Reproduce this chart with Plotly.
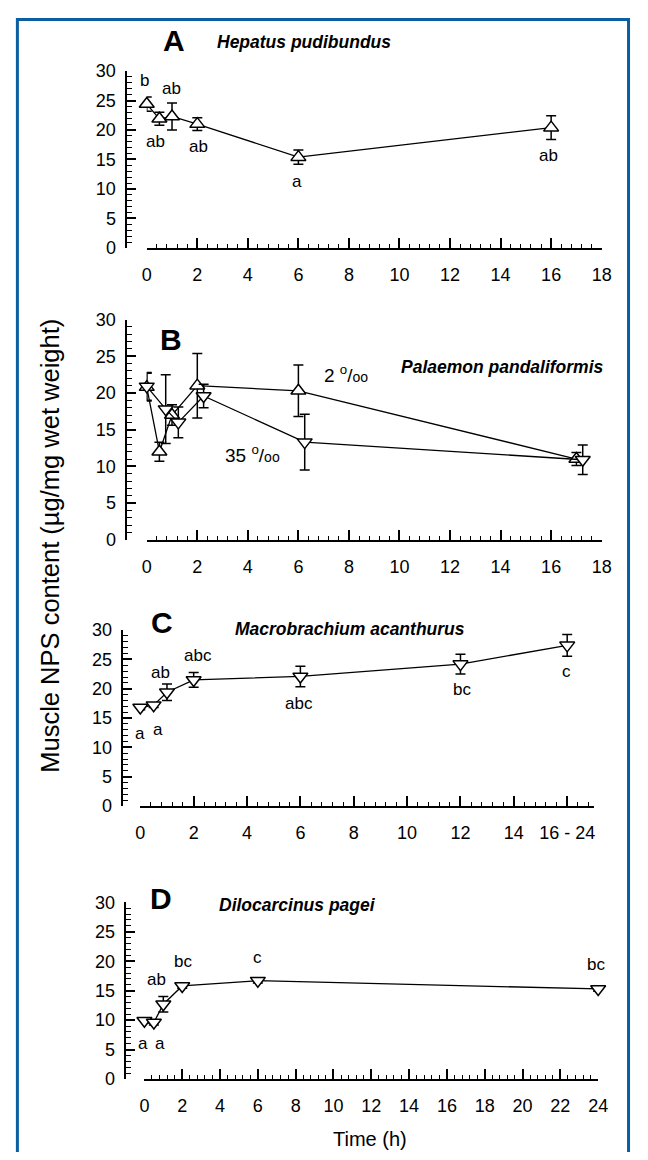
import plotly.graph_objects as go

# page is 648x1160; the browser body keeps its default 8px margin,
# so the figure itself is 16px smaller and every page pixel is shifted by 8.
PAGE_W, PAGE_H = 648, 1160
OFF = 8
W, H = PAGE_W - 2 * OFF, PAGE_H - 2 * OFF
FONT = "Liberation Sans, Arial, sans-serif"

# ---------------- data ----------------
# Panel A - Hepatus pudibundus
a_time = [0, 0.5, 1, 2, 6, 16]
a_nps = [24.4, 21.9, 22.3, 21.0, 15.4, 20.4]
a_err = [1.2, 1.1, 2.3, 1.1, 1.2, 2.0]
a_letters = ["b", "ab", "ab", "ab", "a", "ab"]

# Panel B - Palaemon pandaliformis (2 ‰ and 35 ‰)
b2_time = [0, 0.5, 1, 2, 6, 17]
b2_nps = [20.8, 12.0, 17.0, 21.0, 20.3, 11.0]
b2_err = [1.9, 1.3, 1.4, 4.4, 3.5, 0.9]
b35_time = [0, 0.75, 1.25, 2.25, 6.25, 17.25]
b35_nps = [20.9, 17.8, 16.0, 19.6, 13.3, 10.9]
b35_err = [1.9, 4.7, 2.1, 1.6, 3.8, 2.0]

# Panel C - Macrobrachium acanthurus
c_time = [0, 0.5, 1, 2, 6, 12, 16]
c_nps = [16.8, 17.2, 19.4, 21.5, 22.1, 24.2, 27.4]
c_err = [0.4, 0.4, 1.4, 1.25, 1.75, 1.7, 1.85]
c_letters = ["a", "a", "ab", "abc", "abc", "bc", "c"]
c_tickvals = [0, 2, 4, 6, 8, 10, 12, 14, 16]
c_ticktext = ["0", "2", "4", "6", "8", "10", "12", "14", "16 - 24"]

# Panel D - Dilocarcinus pagei
d_time = [0, 0.5, 1, 2, 6, 24]
d_nps = [9.9, 9.6, 12.7, 15.8, 16.7, 15.3]
d_err = [0.4, 0.4, 1.3, 0.4, 0.4, 0.4]
d_letters = ["a", "a", "ab", "bc", "c", "bc"]

# ---------------- layout helpers ----------------
# letter-label anchor positions (data units of each panel)
a_letter_pos = [(-0.09, 28.4), (0.34, 18.0), (0.99, 27.0), (2.03, 17.2), (5.95, 11.2), (15.9, 15.7)]
c_letter_pos = [(0.0, 12.3), (0.68, 13.0), (0.75, 22.7), (2.16, 25.7), (5.96, 17.4), (12.04, 19.8), (15.96, 23.0)]
d_letter_pos = [(-0.05, 6.05), (0.85, 6.05), (0.64, 16.9), (2.02, 19.9), (5.97, 20.6), (23.9, 19.4)]

# panel geometry in page pixels: y-axis x, x0 px, x1 px, top px, bottom px, xmax
geom = [
    (124, 145, 611, 62, 242, 18),
    (124, 145, 611, 315, 539, 18),
    (120, 138.4, 603, 631, 810, 17),
    (123, 142.6, 607.4, 908, 1088, 24),
]
YMAX = 30


def px(x):
    return (x - OFF) / W


def py(y):
    return 1 - (y - OFF) / H


def data_to_paper(i, x, y):
    yx, x0, x1, top, bot, xmax = geom[i - 1]
    return px(x0 + x / xmax * (x1 - x0)), py(bot - y / YMAX * (bot - top))


fig = go.Figure()


def sfx_of(i):
    return "" if i == 1 else str(i)


def add_series(i, xs, ys, errs, symbol):
    s = sfx_of(i)
    fig.add_trace(go.Scatter(
        x=xs, y=ys, mode="lines+markers",
        xaxis="x" + s, yaxis="y" + s,
        line=dict(color="black", width=1.3),
        marker=dict(symbol=symbol, size=13, color="white",
                    line=dict(color="black", width=1.5)),
        error_y=dict(type="data", array=errs, color="black", thickness=1.5, width=5),
        cliponaxis=False, showlegend=False, hoverinfo="skip",
    ))


add_series(1, a_time, a_nps, a_err, "triangle-up")
add_series(2, b2_time, b2_nps, b2_err, "triangle-up")
add_series(2, b35_time, b35_nps, b35_err, "triangle-down")
add_series(3, c_time, c_nps, c_err, "triangle-down")
add_series(4, d_time, d_nps, d_err, "triangle-down")

layout = dict(
    width=W, height=H, margin=dict(l=0, r=0, t=0, b=0),
    paper_bgcolor="white", plot_bgcolor="white",
    font=dict(family=FONT, color="black"),
)

for i, (yx, x0, x1, top, bot, xmax) in enumerate(geom, start=1):
    s = sfx_of(i)
    mi = str(i + 4)  # overlay axes carrying the minor ticks
    xa = dict(
        domain=[px(x0), px(x1)], range=[0, xmax], anchor="y" + s,
        showline=True, linecolor="black", linewidth=1.5,
        ticks="inside", ticklen=10, tickwidth=1.5, tickcolor="black",
        dtick=2, tick0=0, showgrid=False, zeroline=False,
        tickfont=dict(size=18, family=FONT), ticklabelstandoff=10,
    )
    if i == 3:
        xa.update(tickmode="array", tickvals=c_tickvals, ticktext=c_ticktext)
    ya = dict(
        domain=[py(bot), py(top)], range=[0, YMAX], anchor="free", position=px(yx),
        showline=True, linecolor="black", linewidth=1.5,
        ticks="inside", ticklen=9, tickwidth=1.5, tickcolor="black",
        dtick=5, tick0=0, showgrid=False, zeroline=False,
        tickfont=dict(size=18, family=FONT), ticklabelstandoff=6,
    )
    xm = dict(
        overlaying="x" + s, anchor="y" + s, range=[0, xmax], side="bottom",
        showline=False, ticks="inside", ticklen=4, tickwidth=1.2, tickcolor="black",
        dtick=0.4, tick0=0, showticklabels=False, showgrid=False, zeroline=False,
    )
    ym = dict(
        overlaying="y" + s, anchor="free", position=px(yx), range=[0, YMAX], side="left",
        showline=False, ticks="inside", ticklen=5, tickwidth=1.2, tickcolor="black",
        dtick=1, tick0=0, showticklabels=False, showgrid=False, zeroline=False,
    )
    layout["xaxis" + s] = xa
    layout["yaxis" + s] = ya
    layout["xaxis" + mi] = xm
    layout["yaxis" + mi] = ym
    # empty traces so the overlay (minor-tick) axes get drawn
    fig.add_trace(go.Scatter(x=[None], y=[None], xaxis="x" + mi, yaxis="y" + s,
                             showlegend=False, hoverinfo="skip"))
    fig.add_trace(go.Scatter(x=[None], y=[None], xaxis="x" + s, yaxis="y" + mi,
                             showlegend=False, hoverinfo="skip"))

fig.update_layout(**layout)

ann = []


def letters(i, texts, poss):
    for t, (x, y) in zip(texts, poss):
        xp, yp = data_to_paper(i, x, y)
        ann.append(dict(x=xp, y=yp, xref="paper", yref="paper", text=t,
                        showarrow=False, font=dict(size=17, family=FONT),
                        xanchor="center", yanchor="middle"))


letters(1, a_letters, a_letter_pos)
letters(3, c_letters, c_letter_pos)
letters(4, d_letters, d_letter_pos)

# panel letters
for t, (x, y) in [("A", (172.5, 31)), ("B", (170, 335)), ("C", (161, 623)), ("D", (159.5, 904))]:
    ann.append(dict(x=px(x), y=py(y), xref="paper", yref="paper", text="<b>%s</b>" % t,
                    showarrow=False, font=dict(size=30, family=FONT),
                    xanchor="center", yanchor="middle"))

# species names
for t, (x, y) in [("Hepatus pudibundus", (215, 32)), ("Palaemon pandaliformis", (403, 363)),
                  ("Macrobrachium acanthurus", (233, 630)), ("Dilocarcinus pagei", (217, 911))]:
    ann.append(dict(x=px(x), y=py(y), xref="paper", yref="paper",
                    text="<b><i>%s</i></b>" % t, showarrow=False,
                    font=dict(size=17.5, family=FONT), xanchor="left", yanchor="middle"))

# salinity labels
for t, (x, y) in [("2", (325, 370)), ("35", (223, 452))]:
    ann.append(dict(x=px(x), y=py(y), xref="paper", yref="paper",
                    text=t + " <sup>o</sup>/<span style='font-size:14px'>oo</span>",
                    showarrow=False, font=dict(size=19, family=FONT),
                    xanchor="left", yanchor="middle"))

# axis titles
ann.append(dict(x=px(45), y=py(545), xref="paper", yref="paper",
                text="Muscle NPS content (µg/mg wet weight)", textangle=-90,
                showarrow=False, font=dict(size=25.5, family=FONT),
                xanchor="center", yanchor="middle"))
ann.append(dict(x=px(374), y=py(1149), xref="paper", yref="paper",
                text="Time (h)", showarrow=False, font=dict(size=20, family=FONT),
                xanchor="center", yanchor="middle"))

fig.update_layout(annotations=ann)

# blue frame around the figure (top/right edges clamped to the figure area)
fig.add_shape(type="rect", xref="paper", yref="paper",
              x0=px(12.5), x1=(W - 1.5) / W, y0=-0.02, y1=1 - 1.5 / H,
              line=dict(color="#0B5EA0", width=3), fillcolor="rgba(0,0,0,0)")

fig.write_html("out.html", config={"displayModeBar": False})
